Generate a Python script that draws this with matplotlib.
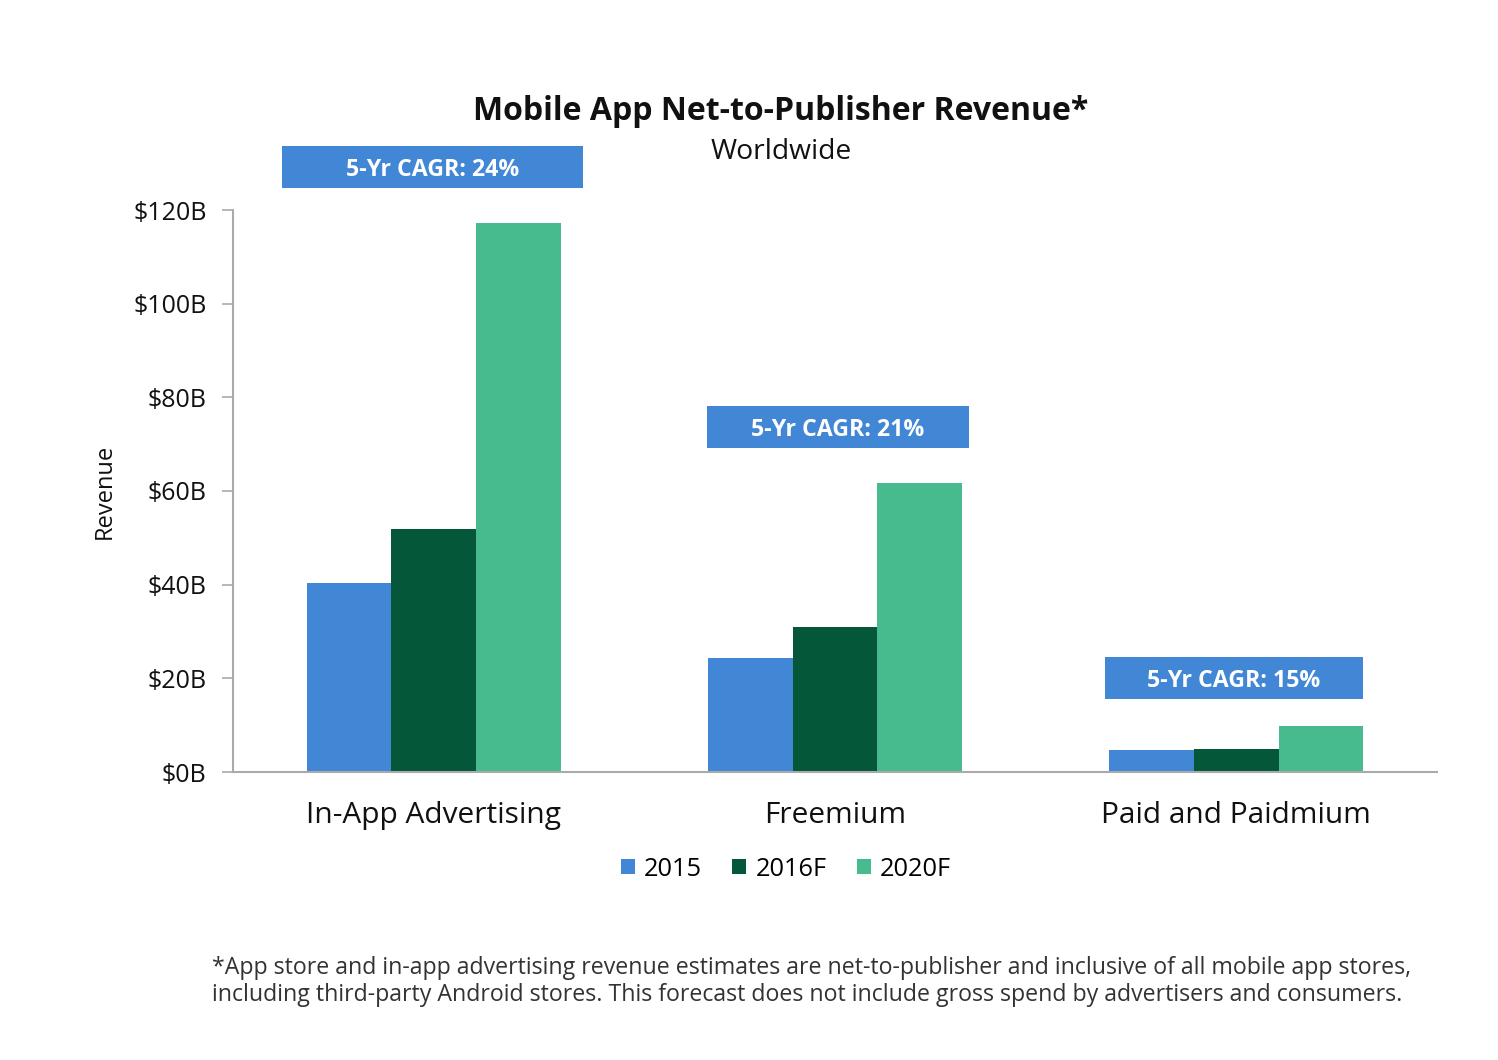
import matplotlib
matplotlib.use("Agg")
import matplotlib.pyplot as plt
from matplotlib.patches import Rectangle, Patch
import numpy as np

plt.rcParams['font.family'] = ['Open Sans', 'DejaVu Sans']

categories = ["In-App Advertising", "Freemium", "Paid and Paidmium"]
series_names = ["2015", "2016F", "2020F"]
v2015 = [40.4, 24.3, 4.7]
v2016 = [51.9, 31.0, 4.9]
v2020 = [117.2, 61.7, 9.8]
cagr_labels = ["5-Yr CAGR: 24%", "5-Yr CAGR: 21%", "5-Yr CAGR: 15%"]
yticks = [0, 20, 40, 60, 80, 100, 120]
ytick_labels = ["$0B", "$20B", "$40B", "$60B", "$80B", "$100B", "$120B"]

colors = ["#4287D6", "#05573A", "#48BB8E"]

fig = plt.figure(figsize=(14.98, 10.60), dpi=100)
ax = fig.add_axes([233/1498, 1-772/1060, (1437-233)/1498, (772-210)/1060])

x = np.arange(len(categories))
w = 0.211
for i, (vals, c, name) in enumerate(zip([v2015, v2016, v2020], colors, series_names)):
    ax.bar(x + (i-1)*w, vals, width=w, color=c, label=name, zorder=2)

ax.set_xlim(-0.5, 2.5)
ax.set_ylim(0, 120)
ax.set_yticks(yticks)
ax.set_yticklabels(ytick_labels, fontsize=18, color="#111111")
ax.set_xticks(x)
ax.set_xticklabels(categories, fontsize=21.5, color="#111111")
ax.tick_params(axis='x', length=0, pad=21)
ax.tick_params(axis='y', length=8, width=1.2, color="#aaaaaa", pad=11)
for s in ["top", "right"]:
    ax.spines[s].set_visible(False)
for s in ["left", "bottom"]:
    ax.spines[s].set_color("#aaaaaa")
    ax.spines[s].set_linewidth(1.5)
ax.set_ylabel("Revenue", fontsize=17, color="#111111", labelpad=12)

# CAGR boxes (positions relative to each group)
box_specs = [(-0.378, 0.373, 124.7, 133.7), (0.682, 1.333, 69.2, 78.2), (1.672, 2.315, 15.6, 24.6)]
for (x0, x1, y0, y1), lab in zip(box_specs, cagr_labels):
    ax.add_patch(Rectangle((x0, y0), x1-x0, y1-y0, facecolor="#4287D6",
                           edgecolor="none", clip_on=False, zorder=3))
    ax.text((x0+x1)/2, (y0+y1)/2 - 0.6, lab, ha="center", va="center", color="white",
            fontsize=16.7, fontweight="bold", zorder=4, clip_on=False)

fig.text(781/1498, 1-111/1060, "Mobile App Net-to-Publisher Revenue*", ha="center",
         va="center", fontsize=23, fontweight="bold", color="#111111")
fig.text(781/1498, 1-152/1060, "Worldwide", ha="center", va="center",
         fontsize=20.3, color="#111111")

handles = [Patch(facecolor=c, label=n) for c, n in zip(colors, series_names)]
fig.legend(handles=handles, loc="center", bbox_to_anchor=(786/1498, 1-869/1060),
           ncol=3, frameon=False, fontsize=18.3, handlelength=0.55, handleheight=0.55,
           handletextpad=0.35, columnspacing=1.2)

fig.text(212/1498, 1-968/1060,
         "*App store and in-app advertising revenue estimates are net-to-publisher and inclusive of all mobile app stores,",
         ha="left", va="center", fontsize=16.7, color="#333333")
fig.text(212/1498, 1-995/1060,
         "including third-party Android stores. This forecast does not include gross spend by advertisers and consumers.",
         ha="left", va="center", fontsize=16.7, color="#333333")

fig.savefig("out.png", dpi=100)
